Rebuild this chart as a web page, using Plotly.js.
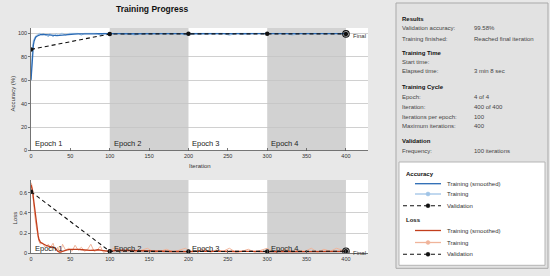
<!DOCTYPE html>
<html>
<head>
<meta charset="utf-8">
<script src="https://cdn.plot.ly/plotly-3.0.1.min.js"></script>
<style>html,body{margin:0;padding:0;background:#e8e8e8;}#chart{width:550px;height:276px;}</style>
</head>
<body>
<div id="chart"></div>
<script>
// ---------- data ----------
const accSmoothIter = [0,1,2,3,4,5,6,8,10,12,15,18,20,22,25,28,30,33,36,40,43,46,50,55,60,65,70,75,80,85,90,95,
  100,110,120,130,140,150,160,170,180,190,200,210,220,230,240,250,260,270,280,290,300,310,320,330,340,350,360,370,380,390,400];
const accSmooth = [60,72,84,90,93.5,95.5,96.8,97.8,98.5,98.9,99.2,99.0,98.8,98.6,98.4,98.2,98.1,98.1,98.3,98.6,98.9,99.1,99.3,99.4,99.5,99.4,99.6,99.5,99.6,99.7,99.6,99.7,
  99.7,99.8,99.7,99.8,99.7,99.8,99.8,99.7,99.8,99.8,99.7,99.8,99.8,99.7,99.8,99.8,99.8,99.7,99.8,99.8,99.8,99.7,99.8,99.8,99.8,99.8,99.7,99.8,99.8,99.8,99.8];

const rawIter = [0,1,2,3,4,5,6,7,8,9,10,
  12,14,16,18,20,22,24,26,28,30,32,34,36,38,40,
  44,48,52,56,60,64,68,72,76,80,84,88,92,96,100,
  108,116,124,132,140,148,156,164,172,180,188,196,204,212,220,228,236,244,252,260,268,276,284,292,300,308,316,324,332,340,348,356,364,372,380,388,396,400];
const accRaw = [61,78,89,94,96,97,98,98.4,99,98.4,100,
  100,98.4,100,98.4,98.4,96.9,100,98.4,96.9,98.4,100,98.4,98.4,100,100,
  98.4,100,100,100,100,98.4,100,100,100,100,100,98.4,100,100,100,
  100,100,100,98.4,100,100,100,100,100,100,100,98.4,100,100,100,100,100,100,98.4,100,100,100,100,100,100,100,100,100,98.4,100,100,100,100,100,100,100,100,100];

const lossSmoothIter = [0,1,2,3,4,5,6,7,8,9,10,11,12,14,16,18,20,22,24,26,28,30,32,34,36,38,40,43,46,50,55,60,65,70,75,80,85,90,95,
  100,110,120,130,140,150,160,170,180,190,200,210,220,230,240,250,260,270,280,290,300,310,320,330,340,350,360,370,380,390,400];
const lossSmooth = [0.68,0.66,0.62,0.55,0.48,0.41,0.34,0.28,0.23,0.18,0.14,0.12,0.11,0.10,0.09,0.08,0.075,0.07,0.065,0.06,0.058,0.055,0.04,0.02,0.012,0.012,0.02,0.03,0.035,0.038,0.04,0.038,0.035,0.03,0.028,0.03,0.035,0.028,0.022,
  0.02,0.03,0.028,0.025,0.022,0.02,0.018,0.02,0.018,0.02,0.017,0.022,0.02,0.018,0.02,0.017,0.018,0.02,0.016,0.018,0.017,0.02,0.018,0.02,0.017,0.018,0.016,0.02,0.018,0.02,0.02];
const lossRaw = [0.7,0.68,0.6,0.5,0.42,0.36,0.3,0.24,0.2,0.16,0.12,
  0.09,0.11,0.08,0.06,0.07,0.09,0.05,0.08,0.1,0.05,0.03,0.06,0.01,0.02,0.09,
  0.03,0.05,0.02,0.08,0.03,0.06,0.02,0.04,0.09,0.02,0.03,0.07,0.01,0.02,0.03,
  0.06,0.02,0.04,0.01,0.03,0.05,0.01,0.02,0.04,0.015,0.03,0.05,0.01,0.02,0.045,0.01,0.03,0.02,0.05,0.01,0.02,0.04,0.01,0.03,0.05,0.015,0.02,0.04,0.01,0.03,0.02,0.05,0.01,0.04,0.02,0.05,0.03,
  0.02];

const valIter = [0,100,200,300,400];
const valAcc = [86.3,99.5,99.6,99.6,99.58];
const valLoss = [0.61,0.02,0.018,0.018,0.02];

const epochStarts = [0,100,200,300];
const epochLabels = ['Epoch 1','Epoch 2','Epoch 3','Epoch 4'];
const xTicks = [0,50,100,150,200,250,300,350,400];
const accTicks = [0,20,40,60,80,100];
const lossTicks = [0,0.2,0.4,0.6];

const infoRows = [
  ['h','Results',''],
  ['r','Validation accuracy:','99.58%'],
  ['r','Training finished:','Reached final iteration'],
  ['h','Training Time',''],
  ['r','Start time:',''],
  ['r','Elapsed time:','3 min 8 sec'],
  ['h','Training Cycle',''],
  ['r','Epoch:','4 of 4'],
  ['r','Iteration:','400 of 400'],
  ['r','Iterations per epoch:','100'],
  ['r','Maximum iterations:','400'],
  ['h','Validation',''],
  ['r','Frequency:','100 iterations']
];
const infoY = [19,28,38.5,53.3,62,71.3,87.3,97.3,107,116.7,126.5,141,150.5];

// ---------- styling ----------
const W = 550, H = 276;
const px = x => x / W;
const py = y => 1 - y / H;
const FONT = 'Liberation Sans, Arial, sans-serif';
const FS = 6;
const C_ACC = '#2a6ab4', C_ACC_L = '#9fc3e6', C_LOSS = '#c23e1c', C_LOSS_L = '#f0b49a';

const xDom = [px(31), px(368)];
const accDom = [py(150.5), py(28)];
const lossDom = [py(253.3), py(180)];

const traces = [
  {x: rawIter, y: accRaw, xaxis:'x', yaxis:'y', mode:'lines', line:{color:C_ACC_L, width:1}},
  {x: accSmoothIter, y: accSmooth, xaxis:'x', yaxis:'y', mode:'lines', line:{color:C_ACC, width:1.3}},
  {x: valIter, y: valAcc, xaxis:'x', yaxis:'y', mode:'lines+markers', line:{color:'#111', width:1.1, dash:'4px,3px'}, marker:{color:'#111', size:4.5}},
  {x: [valIter[4]], y: [valAcc[4]], xaxis:'x', yaxis:'y', mode:'markers', marker:{symbol:'circle-open-dot', color:'#111', size:6.5, line:{width:1.1, color:'#111'}}},
  {x: rawIter, y: lossRaw, xaxis:'x2', yaxis:'y2', mode:'lines', line:{color:C_LOSS_L, width:1}},
  {x: lossSmoothIter, y: lossSmooth, xaxis:'x2', yaxis:'y2', mode:'lines', line:{color:C_LOSS, width:1.3}},
  {x: valIter, y: valLoss, xaxis:'x2', yaxis:'y2', mode:'lines+markers', line:{color:'#111', width:1.1, dash:'4px,3px'}, marker:{color:'#111', size:4.5}},
  {x: [valIter[4]], y: [valLoss[4]], xaxis:'x2', yaxis:'y2', mode:'markers', marker:{symbol:'circle-open-dot', color:'#111', size:6.5, line:{width:1.1, color:'#111'}}}
];

const shapes = [];
const annotations = [];

// epoch shading
[['x','y'],['x2','y2']].forEach(([xa,ya]) => {
  [1,3].forEach(i => {
    shapes.push({type:'rect', xref:xa, yref:ya+' domain', x0:epochStarts[i], x1:epochStarts[i]+100, y0:0, y1:1,
      fillcolor:'#d2d2d2', line:{width:0}, layer:'below'});
  });
});

// epoch labels
epochStarts.forEach((s,i) => {
  annotations.push({xref:'x', yref:'paper', x:s+2.5, y:py(143), text:epochLabels[i], showarrow:false, xanchor:'left', yanchor:'middle', font:{family:FONT, size:7.5, color:'#222'}});
  annotations.push({xref:'x2', yref:'paper', x:s+2.5, y:py(248.3), text:epochLabels[i], showarrow:false, xanchor:'left', yanchor:'middle', font:{family:FONT, size:7.5, color:'#222'}});
});
// Final labels
annotations.push({xref:'paper', yref:'paper', x:px(350.5), y:py(35.5), text:'Final', showarrow:false, xanchor:'left', yanchor:'middle', font:{family:FONT, size:FS, color:'#333'}});
annotations.push({xref:'paper', yref:'paper', x:px(350.5), y:py(252.5), text:'Final', showarrow:false, xanchor:'left', yanchor:'middle', font:{family:FONT, size:FS, color:'#333'}});

// titles
annotations.push({xref:'paper', yref:'paper', x:px(152), y:py(9), text:'<b>Training Progress</b>', showarrow:false, xanchor:'center', yanchor:'middle', font:{family:FONT, size:8.5, color:'#111'}});
annotations.push({xref:'paper', yref:'paper', x:px(12.5), y:py(94), text:'Accuracy (%)', textangle:-90, showarrow:false, xanchor:'center', yanchor:'middle', font:{family:FONT, size:FS, color:'#333'}});
annotations.push({xref:'paper', yref:'paper', x:px(14.5), y:py(218), text:'Loss', textangle:-90, showarrow:false, xanchor:'center', yanchor:'middle', font:{family:FONT, size:FS, color:'#333'}});
annotations.push({xref:'paper', yref:'paper', x:px(199.5), y:py(166), text:'Iteration', showarrow:false, xanchor:'center', yanchor:'middle', font:{family:FONT, size:FS, color:'#333'}});

// right info panel
shapes.push({type:'rect', xref:'paper', yref:'paper', x0:px(396), x1:px(548), y0:py(268.3), y1:py(3), fillcolor:'#e2e2e2', line:{color:'#a9a9a9', width:1}, layer:'below'});
infoRows.forEach((r,i) => {
  const bold = r[0]==='h';
  annotations.push({xref:'paper', yref:'paper', x:px(399.5), y:py(infoY[i]), text: bold ? '<b>'+r[1]+'</b>' : r[1], showarrow:false, xanchor:'left', yanchor:'middle', font:{family:FONT, size:FS, color: bold ? '#111' : '#444'}});
  if (r[2]) annotations.push({xref:'paper', yref:'paper', x:px(471.5), y:py(infoY[i]), text:r[2], showarrow:false, xanchor:'left', yanchor:'middle', font:{family:FONT, size:FS, color:'#444'}});
});

// legend box
shapes.push({type:'rect', xref:'paper', yref:'paper', x0:px(399), x1:px(545), y0:py(265.3), y1:py(162), fillcolor:'#ffffff', line:{color:'#b5b5b5', width:1}, layer:'below'});
const legendGroups = [
  {title:'Accuracy', ty:173.7, items:[
    {label:'Training (smoothed)', y:183.7, color:C_ACC, dash:'solid', dot:false},
    {label:'Training', y:194, color:C_ACC_L, dash:'solid', dot:true},
    {label:'Validation', y:205.7, color:'#111', dash:'dash', dot:true}]},
  {title:'Loss', ty:220, items:[
    {label:'Training (smoothed)', y:230.5, color:C_LOSS, dash:'solid', dot:false},
    {label:'Training', y:242.5, color:C_LOSS_L, dash:'solid', dot:true},
    {label:'Validation', y:254.3, color:'#111', dash:'dash', dot:true}]}
];
legendGroups.forEach(g => {
  annotations.push({xref:'paper', yref:'paper', x:px(403.5), y:py(g.ty), text:'<b>'+g.title+'</b>', showarrow:false, xanchor:'left', yanchor:'middle', font:{family:FONT, size:FS, color:'#111'}});
  g.items.forEach(it => {
    const x0 = it.dash==='dash' ? 403 : 415;
    shapes.push({type:'line', xref:'paper', yref:'paper', x0:px(x0), x1:px(441), y0:py(it.y), y1:py(it.y), line:{color:it.color, width: it.dash==='dash'?1.1:1.3, dash: it.dash==='dash'?'4px,3px':'solid'}});
    if (it.dot) {
      const r = 2;
      shapes.push({type:'circle', xref:'paper', yref:'paper', x0:px(428-r), x1:px(428+r), y0:py(it.y+r), y1:py(it.y-r), fillcolor:it.color, line:{color:it.color, width:0.5}});
    }
    annotations.push({xref:'paper', yref:'paper', x:px(444.5), y:py(it.y), text:it.label, showarrow:false, xanchor:'left', yanchor:'middle', font:{family:FONT, size:FS, color:'#333'}});
  });
});

const xCommon = {range:[0,428], tickvals:xTicks, ticktext:xTicks.map(String), ticks:'inside', ticklen:3, tickcolor:'#555', tickwidth:0.8,
  showline:true, linecolor:'#555', linewidth:0.8, showgrid:false, zeroline:false, tickfont:{family:FONT, size:5.5, color:'#333'}, fixedrange:true};
const yCommon = {ticks:'outside', ticklen:2, tickcolor:'#555', tickwidth:0.8, showline:true, linecolor:'#555', linewidth:0.8,
  showgrid:true, gridcolor:'#c4c4c4', gridwidth:0.8, zeroline:false, tickfont:{family:FONT, size:5.5, color:'#333'}, fixedrange:true};

const layout = {
  width:W, height:H, margin:{l:0,r:0,t:0,b:0},
  paper_bgcolor:'#e8e8e8', plot_bgcolor:'#ffffff', showlegend:false,
  xaxis: Object.assign({}, xCommon, {domain:xDom, anchor:'y'}),
  yaxis: Object.assign({}, yCommon, {domain:accDom, anchor:'x', range:[0,104.6], tickvals:accTicks, ticktext:accTicks.map(String)}),
  xaxis2: Object.assign({}, xCommon, {domain:xDom, anchor:'y2'}),
  yaxis2: Object.assign({}, yCommon, {domain:lossDom, anchor:'x2', range:[0,0.726], tickvals:lossTicks, ticktext:lossTicks.map(String)}),
  shapes: shapes, annotations: annotations
};

Plotly.newPlot('chart', traces, layout, {displayModeBar:false, staticPlot:true});
</script>
</body>
</html>
